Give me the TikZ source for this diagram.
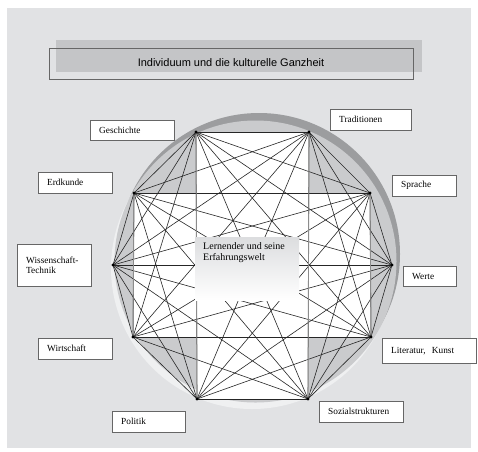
\documentclass[tikz,border=0pt]{standalone}
\usepackage{fontspec}
\setmainfont{Liberation Serif}
\newfontfamily\titlefont{Liberation Sans}
\usepackage{tikz}
\usetikzlibrary{positioning}

\definecolor{bggray}{HTML}{E1E2E4}
\definecolor{shadowgray}{HTML}{C4C5C7}
\definecolor{discgray}{HTML}{CACBCD}
\definecolor{ringdark}{HTML}{9C9D9F}
\definecolor{ringlight}{HTML}{EFF0F1}
\definecolor{boxtop}{HTML}{DCDDDF}

\begin{document}
\begin{tikzpicture}[x=1pt, y=-1pt,
    labelbox/.style={draw=black!60, fill=white, anchor=north west, inner xsep=9pt, inner ysep=0pt,
        align=left, font=\fontsize{9.3}{10.5}\selectfont},
    edge/.style={black!85, line width=0.6pt},
    rim/.style={black!45, line width=0.9pt}]
    \useasboundingbox (0,0) rectangle (478,451);
    \fill[bggray] (7,8) rectangle (471,448);
    % title
    \fill[shadowgray] (56,40) rectangle (422,72);
    \draw[black!60] (49,48) rectangle (413,79);
    \node (title) at (231,63) {\titlefont\fontsize{11}{13}\selectfont Individuum und die kulturelle Ganzheit};
    % disc with light and dark rim
    \fill[ringdark] (259,254) circle (141pt);
    \fill[ringlight] (252,268) circle (141pt);
    \fill[discgray] (255.5,261.5) circle (141pt);
    % corners of the star
    \coordinate (p1) at (196,132);
    \coordinate (p2) at (309,132);
    \coordinate (p3) at (370,193);
    \coordinate (p4) at (392,265);
    \coordinate (p5) at (371,337);
    \coordinate (p6) at (308,399);
    \coordinate (p7) at (197,399);
    \coordinate (p8) at (133,337);
    \coordinate (p9) at (113,265);
    \coordinate (p10) at (134,193);
    % white cross
    \fill[white] (196,132) rectangle (309,399);
    \fill[white] (134,193) rectangle (371,337);
    % every corner to every other
    \foreach \i in {1,...,9}{
        \pgfmathtruncatemacro\k{\i+1}
        \foreach \j in {\k,...,10}{
            \draw[edge] (p\i) -- (p\j);
        }
    }
    \draw[rim] (p1) -- (p7) (p2) -- (p6) (p10) -- (p8) (p3) -- (p5);
    % centre
    \node[top color=boxtop, bottom color=white, minimum width=104pt, minimum height=63pt,
        inner sep=0pt, anchor=north west] (learner) at (195,237) {};
    \node[anchor=north west, inner sep=0pt, align=left, font=\fontsize{10}{11.5}\selectfont]
        (learnertext) at (203,242) {Lernender und seine\\Erfahrungswelt};
    \foreach \i in {1,...,10}
        \fill (p\i) circle (1.6pt);
    % topics
    \node[labelbox, text width=66pt, minimum height=20pt] (geschichte) at (90,120) {Geschichte};
    \node[labelbox, text width=63pt, minimum height=21pt] (traditionen) at (330,109) {Traditionen};
    \node[labelbox, text width=56pt, minimum height=21pt] (erdkunde) at (38,172) {Erdkunde};
    \node[labelbox, text width=56pt, minimum height=42pt] (wissenschaft) at (17,244) {Wissenschaft-\\Technik};
    \node[labelbox, text width=56pt, minimum height=21pt] (wirtschaft) at (38,338) {Wirtschaft};
    \node[labelbox, text width=46pt, minimum height=21pt] (sprache) at (392,175) {Sprache};
    \node[labelbox, text width=35pt, minimum height=20pt] (werte) at (403,266) {Werte};
    \node[labelbox, text width=76pt, minimum height=25pt] (literatur) at (382,338) {Literatur,~ Kunst};
    \node[labelbox, text width=55pt, minimum height=21pt] (politik) at (112,411) {Politik};
    \node[labelbox, text width=66pt, minimum height=21pt] (sozial) at (319,401) {Sozialstrukturen};
\end{tikzpicture}
\end{document}
